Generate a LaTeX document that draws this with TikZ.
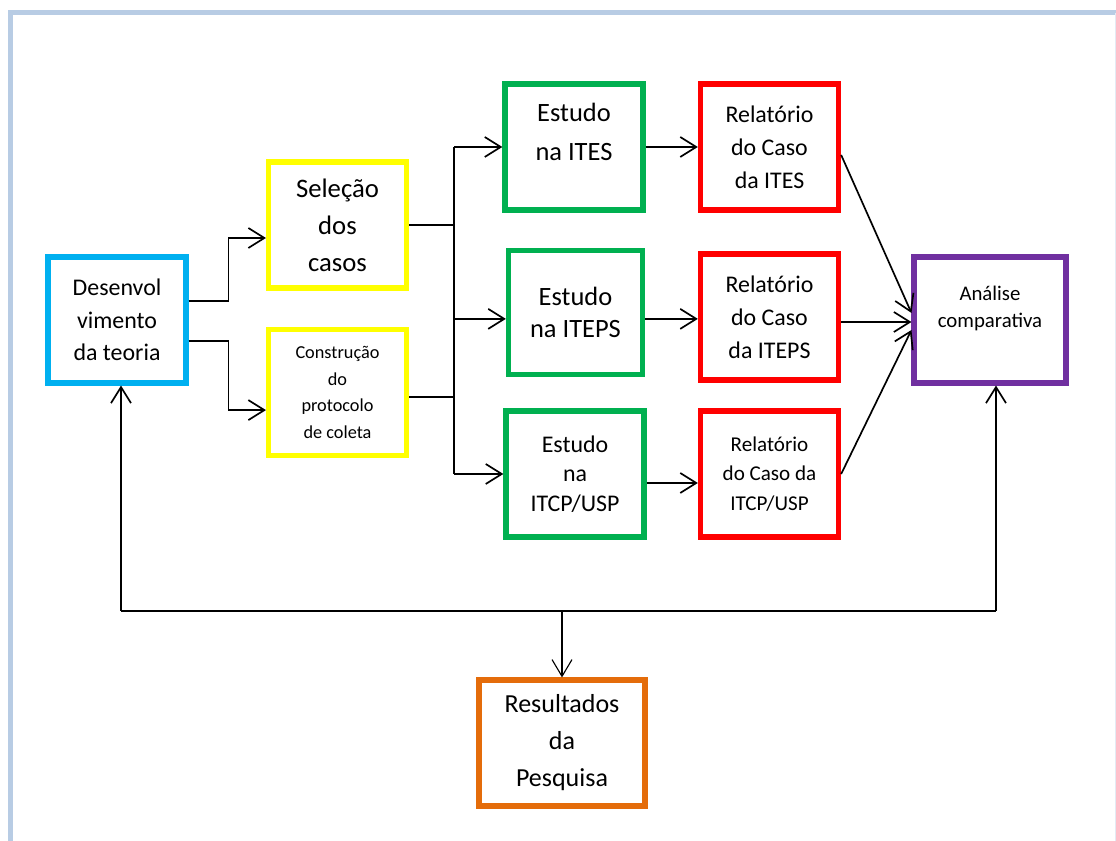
\documentclass[tikz,border=0pt]{standalone}
\usepackage{fontspec}
\setmainfont{Carlito}
\usetikzlibrary{arrows.meta,calc,positioning}
\definecolor{frameblue}{RGB}{184,204,228}
\definecolor{devcyan}{RGB}{0,176,240}
\definecolor{selyellow}{RGB}{255,255,0}
\definecolor{estgreen}{RGB}{0,176,80}
\definecolor{relred}{RGB}{255,0,0}
\definecolor{anapurple}{RGB}{112,48,160}
\definecolor{resorange}{RGB}{228,108,10}
\newcommand{\fsz}[2]{\fontsize{#1}{#2}\selectfont}
\tikzset{
  box/.style={draw,line width=3.6pt,minimum width=3.45cm,minimum height=3.15cm,align=center,inner sep=2pt},
  devbox/.style={box,draw=devcyan},
  selbox/.style={box,draw=selyellow},
  estbox/.style={box,draw=estgreen,line width=3.8pt},
  relbox/.style={box,draw=relred,line width=3.8pt},
  anabox/.style={box,draw=anapurple,minimum width=3.8cm},
  resbox/.style={box,draw=resorange,minimum width=4.15cm},
  conn/.style={line width=1.2pt},
  arr/.style={conn,-{Straight Barb[length=4mm,width=5mm]}},
  thinarr/.style={line width=0.8pt,-{Straight Barb[length=4.2mm,width=5mm]}},
  frame/.style={draw=frameblue,line width=3.5pt}
}
\begin{document}
\begin{tikzpicture}
\useasboundingbox (0,0) rectangle (27.9,21.025);
% page frame
\draw[frame] (0.2625,0) -- (0.2625,20.71) -- (27.9,20.71);
\draw[draw=frameblue!40,line width=0.6pt] (27.875,20.71) -- (27.875,0);

% boxes
\node[devbox,font=\fsz{17}{23}] (dev) at (2.925,13.025) {Desenvol\\vimento\\da teoria};
\node[selbox,font=\fsz{19}{26.3}] (sel) at (8.4375,15.4) {Seleção\\dos\\casos};
\node[selbox,font=\fsz{13}{18.8}] (prot) at (8.4375,11.2125) {Construção\\do\\protocolo\\de coleta};
\node[estbox,font=\fsz{18.8}{27.5}] (estA) at (14.35,17.35) {Estudo\\na ITES\\[-2mm]\mbox{}};
\node[estbox,font=\fsz{18.8}{22.5},minimum width=3.35cm,minimum height=3.1cm] (estB) at (14.3875,13.2125) {Estudo\\na ITEPS};
\node[estbox,font=\fsz{17}{21}] (estC) at (14.375,9.175) {Estudo\\na\\ITCP/USP};
\node[relbox,font=\fsz{17}{23.5}] (relA) at (19.2375,17.35) {Relatório\\do Caso\\da ITES};
\node[relbox,font=\fsz{17}{23.5}] (relB) at (19.2375,13.1) {Relatório\\do Caso\\da ITEPS};
\node[relbox,font=\fsz{15}{21}] (relC) at (19.2375,9.175) {Relatório\\do Caso da\\ITCP/USP};
\node[anabox,font=\fsz{14.8}{19.2}] (ana) at (24.75,13.025) {Análise\\comparativa\\\mbox{}};
\node[resbox,font=\fsz{18.5}{26.3}] (res) at (14.05,2.45) {Resultados\\da\\Pesquisa};

% theory to case selection and protocol
\draw[arr] ([yshift=4.75mm]dev.east) -- ++(1.0,0) |- ([yshift=-3.25mm]sel.west);
\draw[arr] ([yshift=-5.25mm]dev.east) -- ++(1.0,0) |- ([yshift=-4.4mm]prot.west);

% spine to the three studies
\coordinate (spine) at (11.35,0);
\coordinate (rowB) at ([yshift=-1.6mm]estB.west);
\coordinate (rowBr) at ([yshift=-1.6mm]estB.east);
\coordinate (rowC) at ([yshift=-2.25mm]estC.east);
\draw[conn] (sel.east) -- (sel.east -| spine);
\draw[conn] ([yshift=-1.1mm]prot.east) -- ([yshift=-1.1mm]prot.east -| spine);
\draw[conn] (spine |- estA.west) -- (spine |- estC.west);
\draw[arr] (spine |- estA.west) -- (estA.west);
\draw[arr] (spine |- rowB) -- (rowB);
\draw[arr] (spine |- estC.west) -- (estC.west);

% studies to reports
\draw[arr] (estA) -- (relA);
\draw[arr] (rowBr) -- (rowBr -| relB.west);
\draw[arr] (rowC) -- (rowC -| relC.west);

% reports to comparison
\draw[arr] ([yshift=-2mm]relA.east) -- ([yshift=1.75mm]ana.west);
\draw[arr] ([yshift=-1.25mm]relB.east) -- ([yshift=-0.5mm]ana.west);
\draw[arr] (relC.east) -- ([yshift=-2.5mm]ana.west);

% feedback bus
\coordinate (bus) at (0,5.75);
\draw[arr] ([xshift=1mm]dev.south |- bus) -- ([xshift=1mm]dev.south);
\draw[arr] ([xshift=1.5mm]ana.south |- bus) -- ([xshift=1.5mm]ana.south);
\draw[conn] ([xshift=1mm]dev.south |- bus) -- ([xshift=1.5mm]ana.south |- bus);
\draw[thinarr] (res.north |- bus) -- (res.north);
\end{tikzpicture}
\end{document}
